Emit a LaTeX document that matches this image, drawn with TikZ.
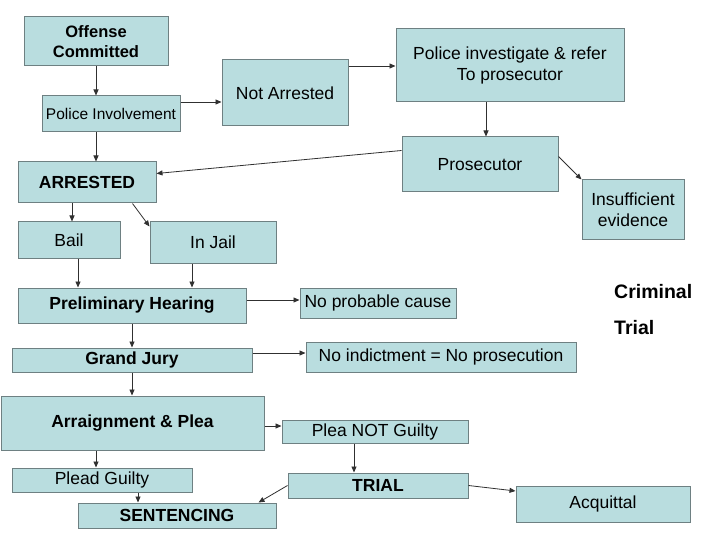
\documentclass[tikz,border=0pt]{standalone}
\usepackage{fontspec}
\setmainfont{Liberation Sans}
\usetikzlibrary{arrows.meta}
\definecolor{boxfill}{HTML}{B9DDDF}
\definecolor{boxline}{HTML}{6E8082}
\definecolor{arrline}{HTML}{303030}
\tikzset{
  box/.style={draw=boxline, fill=boxfill, line width=1pt, inner sep=0pt,
    align=center, font=\fontsize{17.5}{21}\selectfont},
  boldbox/.style={box, font=\fontsize{17.5}{21}\selectfont\bfseries},
  arr/.style={draw=arrline, line width=0.8pt, -{Triangle[length=6pt,width=5pt]}}
}
\begin{document}
\begin{tikzpicture}[x=1pt,y=-1pt]
            \useasboundingbox (0,0) rectangle (720,540);
            % top part
            \node[boldbox, minimum width=144, minimum height=49,
              font=\fontsize{16.5}{20}\selectfont\bfseries] (offense) at (96,41.5) {Offense\\Committed};
            \node[box, minimum width=138, minimum height=36,
              font=\fontsize{15.5}{19}\selectfont] (police) at (111,114) {Police Involvement};
            \node[box, minimum width=126, minimum height=66] (notarr) at (285,93) {Not Arrested};
            \node[box, minimum width=228, minimum height=73] (invest) at (510,65.5) {Police investigate \& refer\\To prosecutor};
            \node[box, minimum width=156, minimum height=55] (prosec) at (480,164.5) {Prosecutor};
            \node[box, minimum width=102, minimum height=59] (insuff) at (633,209.5) {Insufficient\\evidence};
            \node[boldbox, minimum width=138, minimum height=41] (arrested) at (87,182.5) {ARRESTED};
            \node[box, minimum width=102, minimum height=36] (bail) at (69,240) {Bail};
            \node[box, minimum width=126, minimum height=41] (jail) at (213,242.5) {In Jail};
            % hearings
            \node[boldbox, minimum width=228, minimum height=35] (prelim) at (132,305.5) {Preliminary Hearing};
            \node[box, minimum width=156, minimum height=30] (noprob) at (378,303) {No probable cause};
            \node[boldbox, minimum width=240, minimum height=24] (gj) at (132,360) {Grand Jury};
            \node[box, minimum width=270, minimum height=30] (noind) at (441,357) {No indictment = No prosecution};
            \node[boldbox, minimum width=263, minimum height=54] (arraign) at (132.5,423) {Arraignment \& Plea};
            % outcome
            \node[box, minimum width=186, minimum height=23] (pleanot) at (375,431.5) {Plea NOT Guilty};
            \node[box, minimum width=180, minimum height=24] (pleadg) at (102,480) {Plead Guilty};
            \node[boldbox, minimum width=198, minimum height=25] (sent) at (177,515.5) {SENTENCING};
            \node[boldbox, minimum width=180, minimum height=25] (trial) at (378,485.5) {TRIAL};
            \node[box, minimum width=174, minimum height=36] (acquit) at (603,504) {Acquittal};
            % title
            \node[anchor=west, inner sep=0pt, font=\fontsize{19.5}{23}\selectfont\bfseries] (crim) at (614,292) {Criminal};
            \node[anchor=west, inner sep=0pt, font=\fontsize{19.5}{23}\selectfont\bfseries] (trialtxt) at (614,328) {Trial};
            % arrows
            \draw[arr] (offense.south) -- (offense.south |- police.north);
            \draw[arr] (offense.south |- police.south) -- (offense.south |- arrested.north);
            \draw[arr] ([yshift=12pt]police.east) -- ([yshift=12pt]police.east -| notarr.west);
            \draw[arr] ([yshift=27pt]notarr.east) -- ([yshift=27pt]notarr.east -| invest.west);
            \draw[arr] ([xshift=6pt]prosec.north |- invest.south) -- ([xshift=6pt]prosec.north);
            \draw[arr] ([yshift=14pt]prosec.west) -- ([yshift=9pt]arrested.east);
            \draw[arr] ([yshift=8pt]prosec.east) -- (insuff.north west);
            \draw[arr] ([xshift=3pt]bail.north |- arrested.south) -- ([xshift=3pt]bail.north);
            \draw[arr] ([xshift=-24pt]arrested.south east) -- ([yshift=-5pt]jail.north west);
            \draw[arr] ([xshift=9pt]bail.south) -- ([xshift=9pt]bail.south |- prelim.north);
            \draw[arr] ([xshift=-21pt]jail.south) -- ([xshift=-21pt]jail.south |- prelim.north);
            \foreach \a/\b in {prelim/gj, gj/arraign} {
              \draw[arr] (\a.south -| prelim) -- (\b.north -| prelim);
            }
            \draw[arr] ([yshift=5.5pt]prelim.east) -- ([yshift=5.5pt]prelim.east -| noprob.west);
            \draw[arr] ([yshift=7pt]gj.east) -- ([yshift=7pt]gj.east -| noind.west);
            \draw[arr] ([yshift=-3pt]arraign.east) -- ([yshift=-3pt]arraign.east -| pleanot.west);
            \draw[arr] ([xshift=-6pt]pleadg.north |- arraign.south) -- ([xshift=-6pt]pleadg.north);
            \draw[arr] ([xshift=-39pt]sent.north |- pleadg.south) -- ([xshift=-39pt]sent.north);
            \draw[arr] ([xshift=-21pt]pleanot.south) -- ([xshift=-24pt]trial.north);
            \draw[arr] (trial.west) -- ([xshift=-18pt]sent.north east);
            \draw[arr] (trial.east) -- ([yshift=13pt]acquit.west);
\end{tikzpicture}
\end{document}
